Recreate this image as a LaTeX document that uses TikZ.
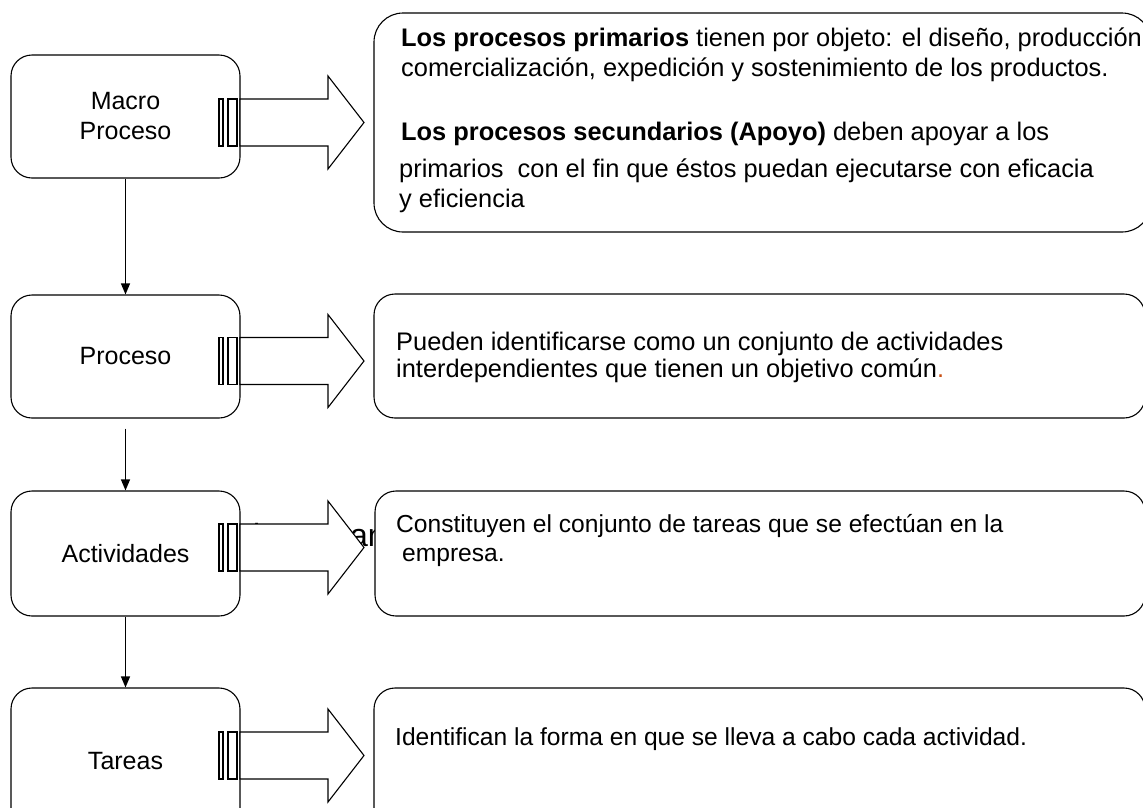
\documentclass[tikz,border=0pt]{standalone}
\usepackage{fontspec}
\setmainfont{Liberation Sans}
\usetikzlibrary{arrows.meta}
\definecolor{redp}{RGB}{200,80,20}
\tikzset{
  lbox/.style={draw, line width=1.1pt, rounded corners=21pt, fill=white, inner sep=0pt,
    minimum width=229pt, align=center, font=\fontsize{25}{30}\selectfont},
  rbox/.style={draw, line width=1.1pt, fill=white, inner sep=0pt},
  txt/.style={anchor=base west, inner sep=0pt, font=\fontsize{25.4}{30}\selectfont},
  smtxt/.style={anchor=base west, inner sep=0pt, font=\fontsize{24.6}{30}\selectfont},
  bigtxt/.style={anchor=base west, inner sep=0pt, font=\fontsize{32}{36}\selectfont},
  conn/.style={line width=1.1pt, -{Triangle[length=11pt,width=9pt]}},
  blk/.style={draw, line width=1.1pt, fill=white},
  striparrow/.pic={
    \path[blk] (0,-23.5) -- (88,-23.5) -- (88,-46.5) -- (124,0) -- (88,46.5) -- (88,23.5) -- (0,23.5) -- cycle;
    \path[blk] (-21,-23.5) rectangle (-17,23.5);
    \path[blk] (-12,-23.5) rectangle (-3,23.5);
  }
}
\begin{document}
\begin{tikzpicture}[x=1pt,y=-1pt]
\useasboundingbox (0,0) rectangle (1143,807);
\clip (0,0) rectangle (1143,807);

% partly hidden text behind the Actividades arrow
\node[bigtxt] (hid1) at (253,546) {i};
\node[bigtxt] (hid2) at (350,546) {an};

% left boxes
\node[lbox, minimum height=123pt] (macro) at (125.5,116.5) {Macro\\Proceso};
\node[lbox, minimum height=123pt] (proceso) at (125.5,356.5) {Proceso};
\node[lbox, minimum height=125pt] (activ) at (125.5,553.5) {Actividades};
\node[lbox, minimum height=146pt] (tareas) at (125.5,761) {Tareas};

% right boxes
\node[rbox, rounded corners=29pt, minimum width=777pt, minimum height=219pt] (r1) at (762.5,122.5) {};
\node[rbox, rounded corners=21pt, minimum width=771pt, minimum height=124pt] (r2) at (759.5,356) {};
\node[rbox, rounded corners=21pt, minimum width=770pt, minimum height=125pt] (r3) at (760,553.5) {};
\node[rbox, rounded corners=21pt, minimum width=771pt, minimum height=146pt] (r4) at (759.5,761) {};

% texts
\node[txt] (t11) at (401,46) {\textbf{Los procesos primarios} tienen por objeto: el diseño, producción};
\node[txt] (t12) at (401,76) {comercialización, expedición y sostenimiento de los productos.};
\node[txt] (t13) at (401,140) {\textbf{Los procesos secundarios (Apoyo)} deben apoyar a los};
\node[txt] (t14) at (399,177) {primarios\ \ con el fin que éstos puedan ejecutarse con eficacia};
\node[txt] (t15) at (399,207) {y eficiencia};

\node[txt] (t21) at (396,350) {Pueden identificarse como un conjunto de actividades};
\node[txt] (t22) at (396,377) {interdependientes que tienen un objetivo común\textcolor{redp}{.}};

\node[smtxt] (t31) at (396,532) {Constituyen el conjunto de tareas que se efectúan en la};
\node[smtxt] (t32) at (402,561) {empresa.};

\node[smtxt] (t41) at (395,745) {Identifican la forma en que se lleva a cabo cada actividad.};

% connectors
\draw[conn] (macro.south) -- (proceso.north);
\draw[conn] ([yshift=-10pt]proceso.south) -- (activ.north);
\draw[conn] (activ.south) -- (tareas.north);

% striped block arrows
\pic at (240,122.5) {striparrow};
\pic at (240,361) {striparrow};
\pic at (240,547.5) {striparrow};
\pic at (240,755.5) {striparrow};
\end{tikzpicture}
\end{document}
